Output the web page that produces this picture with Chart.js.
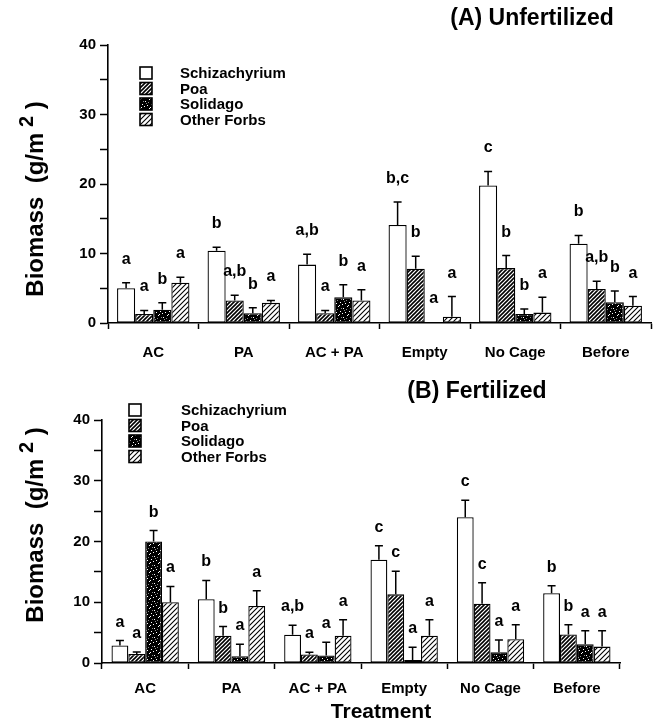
<!DOCTYPE html>
<html><head><meta charset="utf-8">
<script src="https://cdn.jsdelivr.net/npm/chart.js@4.4.1/dist/chart.umd.min.js"></script>
<style>
html,body{margin:0;padding:0;background:#fff;}
#wrap{position:relative;width:659px;height:725px;overflow:hidden;}
canvas{position:absolute;left:0;}
#ca{top:0;} #cb{top:365px;}
</style></head><body>
<div id="wrap">
<canvas id="ca" width="659" height="365"></canvas>
<canvas id="cb" width="659" height="360"></canvas>
</div>
<script>
// ---------- data ----------
const categories = ['AC', 'PA', 'AC + PA', 'Empty', 'No Cage', 'Before'];
const speciesNames = ['Schizachyrium', 'Poa', 'Solidago', 'Other Forbs'];
const yTickLabels = [0, 10, 20, 30, 40];

// (A) Unfertilized : means, upper SE, significance letters
const unfSchizachyrium = [5.0, 10.4, 8.4, 14.1, 19.8, 11.4];
const unfSchizachyriumErr = [0.8, 0.5, 1.5, 3.3, 2.0, 1.2];
const unfSchizachyriumLet = ['a', 'b', 'a,b', 'b,c', 'c', 'b'];
const unfPoa = [1.3, 3.25, 1.4, 7.8, 7.9, 4.9];
const unfPoaErr = [0.5, 0.75, 0.4, 1.8, 1.8, 1.1];
const unfPoaLet = ['a', 'a,b', 'a', 'b', 'b', 'a,b'];
const unfSolidago = [1.9, 1.4, 3.7, 0.1, 1.3, 3.0];
const unfSolidagoErr = [1.0, 0.8, 1.8, 0, 0.7, 1.6];
const unfSolidagoLet = ['b', 'b', 'b', 'a', 'b', 'b'];
const unfOther = [5.8, 2.9, 3.25, 0.9, 1.5, 2.5];
const unfOtherErr = [0.8, 0.35, 1.55, 2.9, 2.2, 1.3];
const unfOtherLet = ['a', 'a', 'a', 'a', 'a', 'a'];

// (B) Fertilized
const ferSchizachyrium = [2.9, 10.5, 4.65, 17.0, 24.0, 11.5];
const ferSchizachyriumErr = [0.8, 3.1, 1.55, 2.3, 2.8, 1.2];
const ferSchizachyriumLet = ['a', 'b', 'a,b', 'c', 'c', 'b'];
const ferPoa = [1.5, 4.5, 1.4, 11.3, 9.75, 4.7];
const ferPoaErr = [0.3, 1.5, 0.35, 3.8, 3.45, 1.6];
const ferPoaLet = ['a', 'b', 'a', 'c', 'c', 'b'];
const ferSolidago = [20.0, 1.1, 1.25, 0.5, 1.75, 3.1];
const ferSolidagoErr = [1.8, 2.0, 2.15, 2.1, 2.05, 2.2];
const ferSolidagoLet = ['b', 'a', 'a', 'a', 'a', 'a'];
const ferOther = [10.0, 9.4, 4.5, 4.5, 3.9, 2.7];
const ferOtherErr = [2.6, 2.5, 2.6, 2.6, 2.4, 2.6];
const ferOtherLet = ['a', 'a', 'a', 'a', 'a', 'a'];

// ---------- styling ----------
const FONT = "'Liberation Sans', Arial, Helvetica, sans-serif";
Chart.defaults.font.family = FONT;
Chart.defaults.color = '#000';

function hatch(size, lw) {
  const c = document.createElement('canvas');
  c.width = c.height = size;
  const x = c.getContext('2d');
  x.fillStyle = '#fff'; x.fillRect(0, 0, size, size);
  x.strokeStyle = '#000'; x.lineWidth = lw;
  x.beginPath();
  x.moveTo(0, size); x.lineTo(size, 0);
  x.moveTo(-size / 2, size / 2); x.lineTo(size / 2, -size / 2);
  x.moveTo(size / 2, size * 1.5); x.lineTo(size * 1.5, size / 2);
  x.stroke();
  return x.createPattern(c, 'repeat');
}
function speckle() {
  const c = document.createElement('canvas');
  c.width = c.height = 9;
  const x = c.getContext('2d');
  x.fillStyle = '#000'; x.fillRect(0, 0, 9, 9);
  x.fillStyle = '#fff';
  [[1, 2], [5, 0], [7, 5], [3, 6], [6, 8], [0, 7]].forEach(p => x.fillRect(p[0], p[1], 1, 1));
  x.fillStyle = '#888';
  [[4, 3], [2, 4], [8, 2]].forEach(p => x.fillRect(p[0], p[1], 1, 1));
  return x.createPattern(c, 'repeat');
}
const fills = ['#ffffff', hatch(4, 1.6), speckle(), hatch(5, 1.1)];

function makeDatasets(vals, errs, lets, catPct) {
  return vals.map((v, i) => ({
    label: speciesNames[i],
    data: v,
    errors: errs[i],
    letters: lets[i],
    backgroundColor: fills[i],
    borderColor: '#000',
    borderWidth: 1.3,
    borderSkipped: false,
    barPercentage: 1.0,
    categoryPercentage: catPct
  }));
}

function overlayPlugin(cfg) {
  return {
    id: 'overlay',
    afterDatasetsDraw(chart) {
      const ctx = chart.ctx, ys = chart.scales.y;
      ctx.save();
      // error bars + letters
      chart.data.datasets.forEach((ds, i) => {
        const meta = chart.getDatasetMeta(i);
        meta.data.forEach((bar, j) => {
          const v = ds.data[j], e = ds.errors[j];
          const top = ys.getPixelForValue(v + e);
          if (e > 0) {
            ctx.strokeStyle = '#000'; ctx.lineWidth = 1.5;
            ctx.beginPath();
            ctx.moveTo(bar.x, bar.y); ctx.lineTo(bar.x, top);
            ctx.moveTo(bar.x - 4, top); ctx.lineTo(bar.x + 4, top);
            ctx.stroke();
          }
          ctx.fillStyle = '#000';
          ctx.font = 'bold 16px ' + FONT;
          ctx.textAlign = 'center'; ctx.textBaseline = 'alphabetic';
          ctx.fillText(ds.letters[j], bar.x, top - cfg.letterGap);
        });
      });
      // legend
      const L = cfg.legend;
      chart.data.datasets.forEach((ds, i) => {
        const cy = L.y + i * L.step;
        ctx.fillStyle = ds.backgroundColor;
        ctx.fillRect(L.x, cy - L.box / 2, L.box, L.box);
        ctx.strokeStyle = '#000'; ctx.lineWidth = 1.6;
        ctx.strokeRect(L.x, cy - L.box / 2, L.box, L.box);
        ctx.fillStyle = '#000';
        ctx.font = 'bold 15px ' + FONT;
        ctx.textAlign = 'left'; ctx.textBaseline = 'middle';
        ctx.fillText(ds.label, L.tx, cy + 1);
      });
      // panel title
      ctx.font = 'bold 23px ' + FONT;
      ctx.textAlign = 'center'; ctx.textBaseline = 'middle';
      ctx.fillText(cfg.title.text, cfg.title.x, cfg.title.y);
      // y title with superscript
      ctx.save();
      ctx.translate(cfg.ytitle.x, cfg.ytitle.y);
      ctx.rotate(-Math.PI / 2);
      const p1 = 'Biomass  (g/m', p2 = ' 2', p3 = ' )';
      ctx.font = 'bold 24px ' + FONT;
      const w1 = ctx.measureText(p1).width, w3 = ctx.measureText(p3).width;
      ctx.font = 'bold 20px ' + FONT;
      const w2 = ctx.measureText(p2).width;
      let x0 = -(w1 + w2 + w3) / 2;
      ctx.textAlign = 'left'; ctx.textBaseline = 'middle';
      ctx.font = 'bold 24px ' + FONT; ctx.fillText(p1, x0, 0);
      ctx.font = 'bold 20px ' + FONT; ctx.fillText(p2, x0 + w1, -9);
      ctx.font = 'bold 24px ' + FONT; ctx.fillText(p3, x0 + w1 + w2, 0);
      ctx.restore();
      if (cfg.xtitle) {
        ctx.font = 'bold 21px ' + FONT;
        ctx.textAlign = 'center'; ctx.textBaseline = 'middle';
        ctx.fillText(cfg.xtitle.text, cfg.xtitle.x, cfg.xtitle.y);
      }
      ctx.restore();
    }
  };
}

function makeChart(id, datasets, lay, cfg) {
  return new Chart(document.getElementById(id), {
    type: 'bar',
    data: { labels: categories, datasets: datasets },
    options: {
      responsive: false, animation: false, devicePixelRatio: 1,
      layout: { padding: { left: 0, right: lay.padRight, top: lay.padTop, bottom: 0 } },
      plugins: { legend: { display: false }, title: { display: false }, tooltip: { enabled: false } },
      scales: {
        x: {
          type: 'category',
          grid: { offset: true, drawOnChartArea: false, tickLength: 6, tickColor: '#000', tickWidth: 1.5 },
          border: { color: '#000', width: 1.6 },
          ticks: { font: { size: 15, weight: 'bold' }, color: '#000', padding: lay.xPad, maxRotation: 0, autoSkip: false },
          afterFit(s) { s.height = lay.xHeight; }
        },
        y: {
          min: 0, max: 40,
          ticks: { stepSize: 5, font: { size: 15, weight: 'bold' }, color: '#000', padding: 4,
                   callback: v => yTickLabels.includes(v) ? String(v) : '' },
          grid: { drawOnChartArea: false, tickLength: 8, tickColor: '#000', tickWidth: 1.5 },
          border: { color: '#000', width: 1.6 },
          afterFit(s) { s.width = lay.yWidth; }
        }
      }
    },
    plugins: [overlayPlugin(cfg)]
  });
}

makeChart('ca',
  makeDatasets([unfSchizachyrium, unfPoa, unfSolidago, unfOther],
               [unfSchizachyriumErr, unfPoaErr, unfSolidagoErr, unfOtherErr],
               [unfSchizachyriumLet, unfPoaLet, unfSolidagoLet, unfOtherLet], 0.8),
  { padRight: 8, padTop: 45, xHeight: 42, yWidth: 108, xPad: 15 },
  { legend: { x: 140, tx: 180, y: 73, step: 15.5, box: 12 },
    title: { text: '(A) Unfertilized', x: 532, y: 19 },
    ytitle: { x: 36, y: 199 },
    letterGap: 19 });

makeChart('cb',
  makeDatasets([ferSchizachyrium, ferPoa, ferSolidago, ferOther],
               [ferSchizachyriumErr, ferPoaErr, ferSolidagoErr, ferOtherErr],
               [ferSchizachyriumLet, ferPoaLet, ferSolidagoLet, ferOtherLet], 0.78),
  { padRight: 39, padTop: 55, xHeight: 62, yWidth: 102, xPad: 11 },
  { legend: { x: 129, tx: 181, y: 45, step: 15.5, box: 12 },
    title: { text: '(B) Fertilized', x: 477, y: 27 },
    ytitle: { x: 36, y: 160 },
    xtitle: { text: 'Treatment', x: 381, y: 347 },
    letterGap: 14 });
</script>
</body></html>
